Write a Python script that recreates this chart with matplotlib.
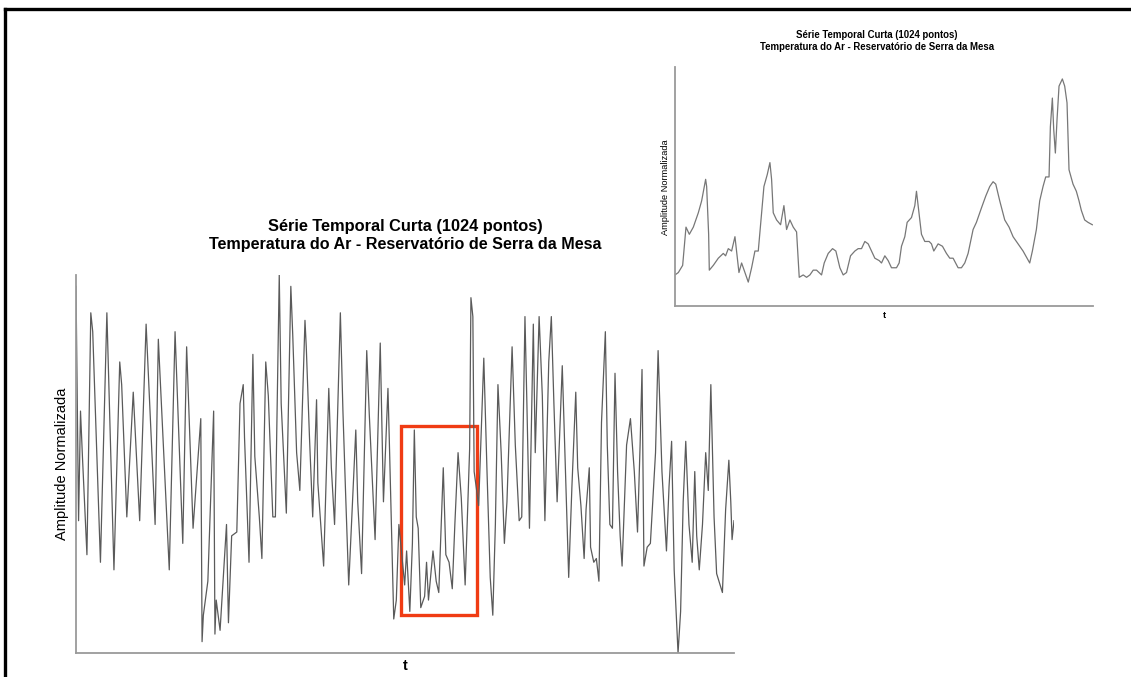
import matplotlib
matplotlib.use("Agg")
import matplotlib.pyplot as plt
from matplotlib.patches import Rectangle
from matplotlib.lines import Line2D

plt.rcParams['font.family'] = ['Liberation Sans', 'DejaVu Sans']

titulo1 = "Série Temporal Curta (1024 pontos)"
titulo2 = "Temperatura do Ar - Reservatório de Serra da Mesa"
ylabel = "Amplitude Normalizada"
xlabel = "t"

# serie principal (1024 pontos) - picos e vales
t = [0, 4, 7, 10, 17, 23, 26, 38, 48, 59,
     68, 71, 79, 89, 99, 109, 123, 128, 145, 154,
     166, 172, 182, 194, 196, 198, 205, 214, 216, 218,
     224, 234, 237, 242, 250, 255,
     260, 262, 269, 275, 278, 285, 289, 295, 299, 306,
     310, 316, 319, 327, 334, 337, 343, 348, 356, 358,
     363, 368, 374, 376, 385, 393, 397, 402, 411, 415,
     419, 424, 435, 438, 444, 452, 456, 465, 473, 478,
     485, 487,
     494, 498, 502, 511, 514, 519, 523, 526, 529, 532,
     536, 542, 545, 548, 555, 560, 564, 571, 575, 580,
     585, 589, 594, 599, 605, 612, 614, 617, 619, 626,
     634, 639, 644, 648, 652, 656, 661, 666, 670, 678,
     683, 689, 693, 698, 701, 705, 711, 714, 720, 725,
     729, 735, 739, 743, 748, 756, 761, 766,
     771, 777, 780, 785, 790, 793, 798, 800, 805, 809,
     813, 817, 823, 826, 830, 834, 838, 842, 846, 849,
     856, 862, 868, 873, 877, 880, 883, 888, 893, 901,
     905, 911, 918, 922, 926, 930, 936, 940, 944, 948,
     953, 958, 962, 965, 969, 974, 979, 983, 987, 992,
     996, 1005, 1010, 1015, 1018, 1020, 1023]
amp = [0.97, 0.35, 0.64, 0.52, 0.26, 0.90, 0.85, 0.24, 0.90, 0.22,
       0.77, 0.71, 0.36, 0.69, 0.35, 0.87, 0.34, 0.83, 0.22, 0.85,
       0.29, 0.81, 0.33, 0.62, 0.03, 0.10, 0.19, 0.64, 0.05, 0.14,
       0.06, 0.34, 0.08, 0.31, 0.32, 0.66,
       0.71, 0.57, 0.24, 0.79, 0.52, 0.36, 0.25, 0.77, 0.68, 0.36,
       0.36, 1.00, 0.66, 0.37, 0.97, 0.84, 0.53, 0.43, 0.88, 0.81,
       0.57, 0.36, 0.67, 0.45, 0.23, 0.70, 0.49, 0.34, 0.90, 0.64,
       0.43, 0.18, 0.59, 0.40, 0.21, 0.80, 0.63, 0.30, 0.82, 0.40,
       0.70, 0.57,
       0.09, 0.14, 0.34, 0.18, 0.27, 0.11, 0.29, 0.59, 0.36, 0.33,
       0.12, 0.15, 0.24, 0.14, 0.27, 0.19, 0.16, 0.49, 0.26, 0.24,
       0.17, 0.34, 0.53, 0.41, 0.18, 0.54, 0.94, 0.89, 0.48, 0.39,
       0.78, 0.48, 0.20, 0.10, 0.34, 0.71, 0.53, 0.29, 0.40, 0.81,
       0.55, 0.35, 0.36, 0.89, 0.66, 0.33, 0.87, 0.53, 0.89, 0.68,
       0.35, 0.77, 0.89, 0.66, 0.40, 0.76, 0.48, 0.20,
       0.44, 0.69, 0.49, 0.39, 0.25, 0.38, 0.49, 0.28, 0.24, 0.25,
       0.19, 0.61, 0.85, 0.55, 0.34, 0.33, 0.74, 0.48, 0.31, 0.23,
       0.55, 0.62, 0.48, 0.32, 0.55, 0.75, 0.23, 0.28, 0.29, 0.53,
       0.80, 0.48, 0.27, 0.44, 0.56, 0.22, 0.00, 0.11, 0.40, 0.56,
       0.34, 0.24, 0.48, 0.31, 0.22, 0.34, 0.53, 0.43, 0.71, 0.36,
       0.21, 0.16, 0.38, 0.51, 0.40, 0.30, 0.35]

# trecho ampliado (janela vermelha)
t_zoom = [0, 10, 23, 33, 43, 55, 70, 80, 92, 95,
          101, 103, 115, 130, 145, 152, 160, 170, 180, 188,
          192, 200, 210, 220, 230, 240, 250, 260, 267, 277,
          285, 290, 295, 305, 317, 327, 335, 345, 355, 365,
          373, 385, 395, 405, 415, 425, 440, 448, 460, 473,
          483, 495, 505, 515, 527, 540, 550, 560, 570, 580,
          590, 600, 613, 620, 630, 640, 650, 665, 673, 680,
          690, 697, 710, 720, 725, 730, 740, 750, 763, 770,
          777, 790, 803, 815, 825, 835, 850, 860, 870, 880,
          895, 905, 920, 933, 945, 955, 963, 975, 990, 1003,
          1015, 1030, 1045, 1057, 1065, 1073, 1085, 1095, 1105, 1113,
          1123, 1127, 1133, 1137, 1142, 1147, 1153, 1163, 1170, 1177,
          1183, 1195, 1205, 1213, 1220, 1230, 1240, 1253]
amp_zoom = [0.13, 0.14, 0.17, 0.33, 0.30, 0.33, 0.39, 0.44, 0.53, 0.50,
            0.30, 0.15, 0.17, 0.20, 0.22, 0.21, 0.24, 0.23, 0.29, 0.19,
            0.14, 0.18, 0.14, 0.10, 0.16, 0.23, 0.23, 0.39, 0.50, 0.55,
            0.60, 0.53, 0.39, 0.36, 0.34, 0.42, 0.32, 0.36, 0.33, 0.31,
            0.12, 0.13, 0.12, 0.13, 0.15, 0.15, 0.13, 0.18, 0.22, 0.24,
            0.23, 0.16, 0.13, 0.14, 0.21, 0.23, 0.24, 0.24, 0.27, 0.26,
            0.23, 0.20, 0.19, 0.18, 0.21, 0.19, 0.16, 0.16, 0.18, 0.25,
            0.29, 0.35, 0.37, 0.42, 0.48, 0.42, 0.30, 0.27, 0.27, 0.26,
            0.23, 0.26, 0.25, 0.22, 0.20, 0.20, 0.16, 0.16, 0.18, 0.22,
            0.32, 0.35, 0.41, 0.46, 0.50, 0.52, 0.51, 0.44, 0.36, 0.33,
            0.29, 0.26, 0.23, 0.20, 0.18, 0.23, 0.32, 0.44, 0.50, 0.54,
            0.54, 0.75, 0.87, 0.74, 0.64, 0.78, 0.92, 0.95, 0.92, 0.85,
            0.57, 0.51, 0.48, 0.44, 0.40, 0.36, 0.35, 0.34]

W, H = 1131, 677
fig = plt.figure(figsize=(W / 100, H / 100), dpi=100)
fig.patch.set_facecolor("white")


def px(x0, y0, x1, y1):
    return [x0 / W, 1 - y1 / H, (x1 - x0) / W, (y1 - y0) / H]


def limpa(ax):
    for s in ["top", "right"]:
        ax.spines[s].set_visible(False)
    for s in ["left", "bottom"]:
        ax.spines[s].set_color("#9a9a9a")
        ax.spines[s].set_linewidth(1.3)
    ax.set_xticks([])
    ax.set_yticks([])


# grafico principal
ax = fig.add_axes(px(76, 275, 734, 653))
ax.plot(t, amp, color="#5a5a5a", lw=0.9)
ax.set_xlim(0, 1023)
ax.set_ylim(0, 1.0)
limpa(ax)
ax.add_patch(Rectangle((506, 0.10), 118, 0.50, fill=False,
                       edgecolor="#f03c14", lw=2.4))

fig.text(405 / W, 1 - 226 / H, titulo1, ha="center", va="center",
         fontsize=11.8, fontweight="bold")
fig.text(405 / W, 1 - 244 / H, titulo2, ha="center", va="center",
         fontsize=11.6, fontweight="bold")
fig.text(62 / W, 1 - 464 / H, ylabel, ha="center", va="center",
         rotation=90, fontsize=10.5)
fig.text(405 / W, 1 - 666 / H, xlabel, ha="center", va="center",
         fontsize=10.5, fontweight="bold")

# grafico ampliado
ax2 = fig.add_axes(px(675, 67, 1093, 306))
ax2.plot(t_zoom, amp_zoom, color="#777777", lw=0.9)
ax2.set_xlim(0, 1255)
ax2.set_ylim(0, 1.0)
limpa(ax2)
fig.text(877 / W, 1 - 35 / H, titulo1, ha="center", va="center",
         fontsize=6.9, fontweight="bold")
fig.text(877 / W, 1 - 47 / H, titulo2, ha="center", va="center",
         fontsize=6.9, fontweight="bold")
fig.text(666 / W, 1 - 187 / H, ylabel, ha="center", va="center",
         rotation=90, fontsize=6.7)
fig.text(884 / W, 1 - 315 / H, xlabel, ha="center", va="center",
         fontsize=6.5, fontweight="bold")

# moldura (borda preta em cima e a esquerda)
fig.add_artist(Line2D([5 / W, 1], [1 - 9 / H, 1 - 9 / H], color="black", lw=2.4))
fig.add_artist(Line2D([5 / W, 5 / W], [0, 1 - 9 / H], color="black", lw=2.4))

fig.savefig("out.png", dpi=100)
